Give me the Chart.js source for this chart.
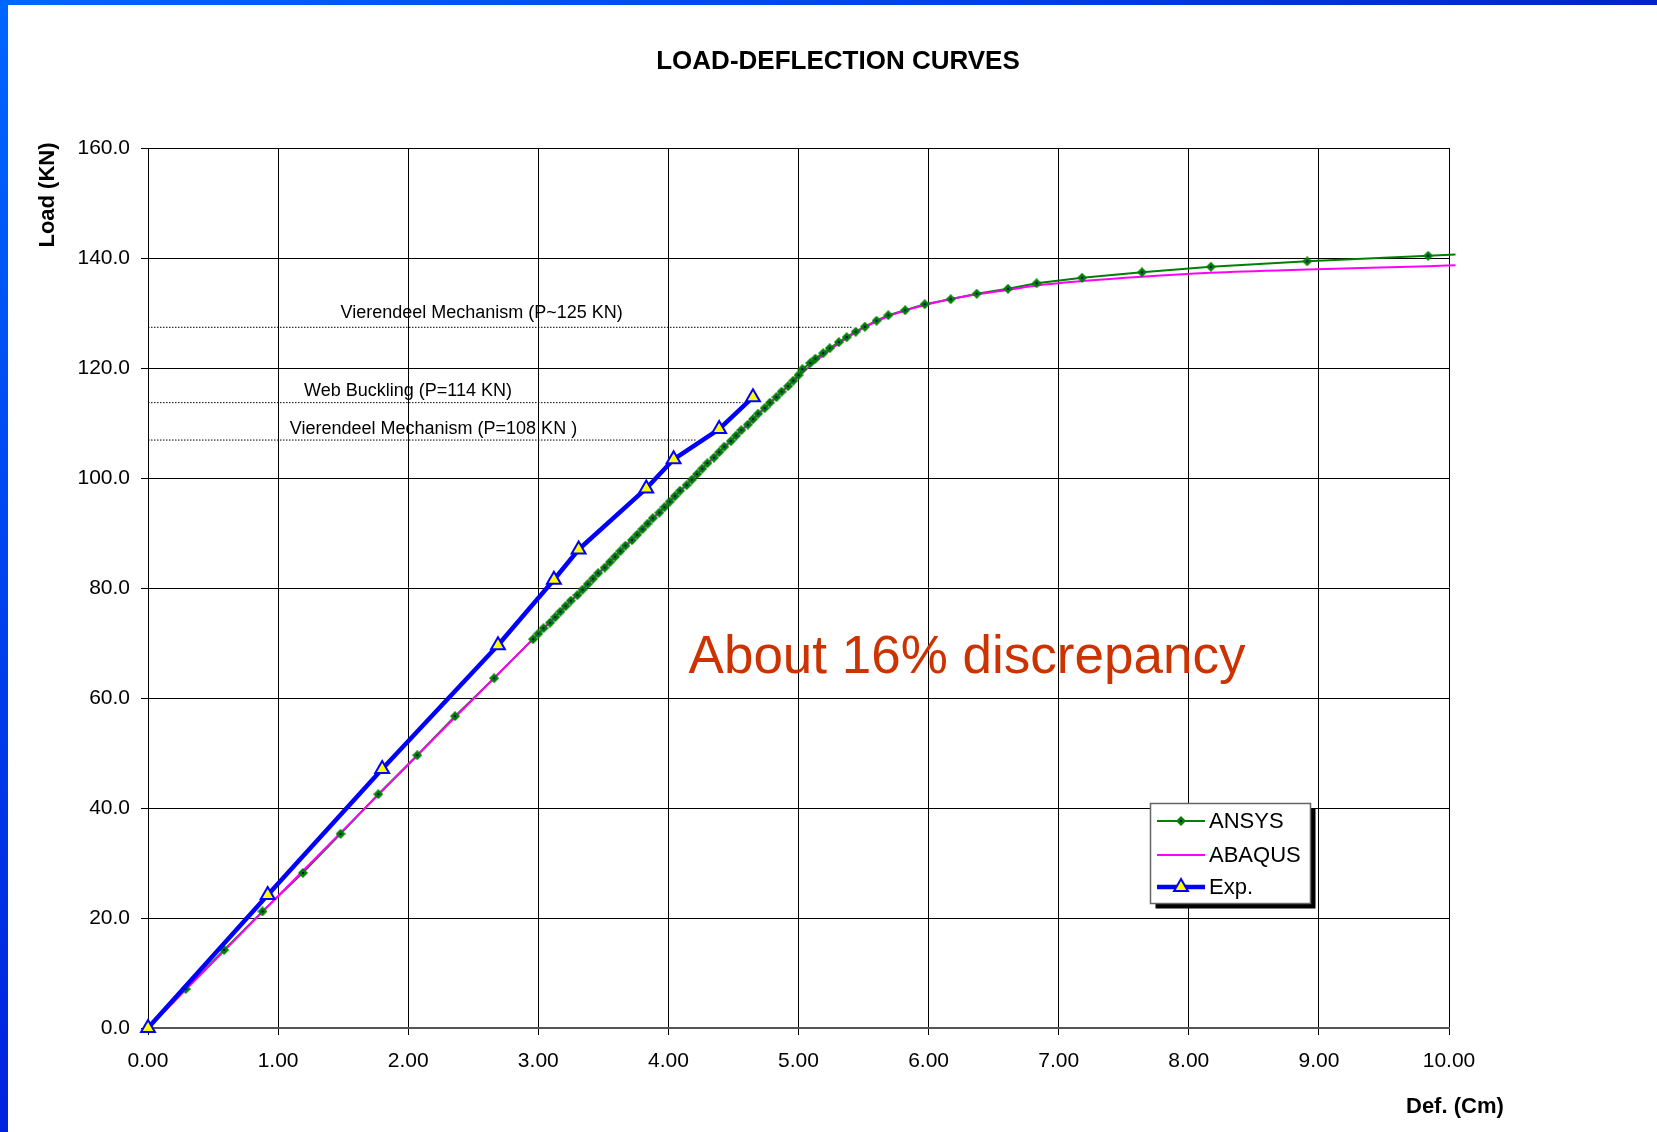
<!DOCTYPE html>
<html>
<head>
<meta charset="utf-8">
<title>Load-Deflection Curves</title>
<script src="https://cdn.jsdelivr.net/npm/chart.js@4.4.1/dist/chart.umd.min.js"></script>
<style>
    html, body { margin: 0; padding: 0; background: #fff; overflow: hidden; }
    #wrap { position: relative; width: 1657px; height: 1132px; }
    #topbar { position: absolute; left: 0; top: 0; width: 1657px; height: 5px; background: linear-gradient(to right, #0066ff, #0040e8 60%, #0022cc); }
    #leftbar { position: absolute; left: 0; top: 0; width: 8px; height: 1132px; background: linear-gradient(to bottom, #0066ff, #0022dd); }
</style>
</head>
<body>
<div id="wrap">
    <canvas id="loadChart" width="1657" height="1132"></canvas>
    <div id="topbar"></div>
    <div id="leftbar"></div>
</div>
<script>
// ANSYS results (deflection cm / load KN)
const ansysDef = [0, 0.29, 0.585, 0.88, 1.19, 1.48, 1.77, 2.07, 2.36, 2.66,
    2.96, 3.00, 3.04, 3.09, 3.13, 3.17, 3.21, 3.25, 3.30, 3.34,
    3.38, 3.42, 3.46, 3.51, 3.55, 3.59, 3.63, 3.67, 3.72, 3.76,
    3.80, 3.84, 3.88, 3.93, 3.97, 4.01, 4.05, 4.09, 4.14, 4.18,
    4.22, 4.26, 4.30, 4.35, 4.39, 4.43, 4.48, 4.52, 4.56, 4.61,
    4.65, 4.69, 4.74, 4.78, 4.83, 4.87, 4.92, 4.96, 5.00, 5.03,
    5.09, 5.13, 5.19, 5.24, 5.31, 5.37, 5.44, 5.51, 5.60, 5.69,
    5.82, 5.97, 6.17, 6.37, 6.61, 6.83, 7.18, 7.64, 8.17, 8.91,
    9.84, 10.05];
const ansysLoad = [0, 7.1, 14.2, 21.2, 28.2, 35.3, 42.5, 49.6, 56.7, 63.6,
    70.7, 71.7, 72.7, 73.7, 74.7, 75.7, 76.7, 77.7, 78.7, 79.7,
    80.7, 81.7, 82.7, 83.7, 84.7, 85.7, 86.7, 87.7, 88.7, 89.7,
    90.7, 91.7, 92.7, 93.7, 94.7, 95.7, 96.7, 97.7, 98.7, 99.7,
    100.7, 101.7, 102.7, 103.7, 104.7, 105.7, 106.7, 107.7, 108.7, 109.7,
    110.7, 111.7, 112.7, 113.7, 114.7, 115.7, 116.7, 117.7, 118.7, 119.8,
    120.9, 121.7, 122.7, 123.6, 124.7, 125.6, 126.6, 127.5, 128.6, 129.6,
    130.5, 131.6, 132.5, 133.5, 134.4, 135.4, 136.4, 137.4, 138.4, 139.4,
    140.4, 140.65];

// ABAQUS results
const abaqusDef = [0, 1.00, 2.00, 3.00, 4.00, 4.50, 4.90, 5.10, 5.30, 5.50, 5.70,
    5.90, 6.10, 6.35, 6.61, 6.83, 7.18, 7.64, 8.17, 8.91, 9.84, 10.05];
const abaqusLoad = [0, 24.0, 47.9, 71.7, 95.5, 107.2, 116.3, 120.6, 124.3, 127.3, 129.5,
    131.0, 132.2, 133.3, 134.2, 135.0, 135.8, 136.6, 137.3, 137.9, 138.5, 138.7];

// Experiment
const expDef = [0, 0.92, 1.80, 2.69, 3.12, 3.31, 3.83, 4.04, 4.39, 4.65];
const expLoad = [0, 24.2, 47.1, 69.6, 81.5, 87.0, 98.1, 103.4, 108.9, 114.7];

// dotted reference levels
const refLoads = [127.4, 113.7, 106.9];
const refEnds = [5.42, 4.57, 4.22];

const xTickLabels = ['0.00', '1.00', '2.00', '3.00', '4.00', '5.00', '6.00', '7.00', '8.00', '9.00', '10.00'];
const yTickLabels = ['0.0', '20.0', '40.0', '60.0', '80.0', '100.0', '120.0', '140.0', '160.0'];

const notes = [
    { text: 'Vierendeel Mechanism (P~125 KN)', x: 1.48, y: 129.1, size: 18, color: '#000' },
    { text: 'Web Buckling (P=114 KN)', x: 1.20, y: 114.9, size: 18, color: '#000' },
    { text: 'Vierendeel Mechanism (P=108 KN )', x: 1.09, y: 108.0, size: 18, color: '#000' },
    { text: 'About 16% discrepancy', x: 4.155, y: 64.6, size: 53, color: '#cc3300' }
];

const FONT = '"Liberation Sans", Arial, sans-serif';
Chart.defaults.font.family = FONT;
Chart.defaults.color = '#000';

function toPoints(xs, ys) {
    return xs.map((x, i) => ({ x: x, y: ys[i] }));
}

// green diamond with a navy centre, like the ANSYS markers
const diamond = document.createElement('canvas');
diamond.width = 10;
diamond.height = 10;
(function() {
    const c = diamond.getContext('2d');
    c.fillStyle = '#008000';
    c.beginPath();
    c.moveTo(5, 0); c.lineTo(10, 5); c.lineTo(5, 10); c.lineTo(0, 5);
    c.closePath();
    c.fill();
    c.fillStyle = '#000080';
    c.fillRect(4, 4, 2, 2);
})();

const ansysPts = toPoints(ansysDef, ansysLoad);
const refSets = refLoads.map((v, i) => ({
    label: 'ref' + i,
    data: [{ x: 0, y: v }, { x: refEnds[i], y: v }],
    borderColor: '#000',
    borderWidth: 1,
    borderDash: [1.5, 1.5],
    pointRadius: 0,
    order: 5,
    clip: false
}));

const overlayPlugin = {
    id: 'overlay',
    afterDraw(chart) {
        const ctx = chart.ctx;
        const xs = chart.scales.x, ys = chart.scales.y;
        ctx.save();

        // title and axis titles
        ctx.fillStyle = '#000';
        ctx.textAlign = 'center';
        ctx.textBaseline = 'middle';
        ctx.font = 'bold 26px ' + FONT;
        ctx.fillText('LOAD-DEFLECTION CURVES', 838, 62);

        ctx.font = 'bold 22px ' + FONT;
        ctx.textAlign = 'left';
        ctx.fillText('Def. (Cm)', 1406, 1107);

        ctx.save();
        ctx.translate(48, 195);
        ctx.rotate(-Math.PI / 2);
        ctx.textAlign = 'center';
        ctx.fillText('Load (KN)', 0, 0);
        ctx.restore();

        // notes
        ctx.textAlign = 'left';
        ctx.textBaseline = 'alphabetic';
        notes.forEach(n => {
            ctx.font = n.size + 'px ' + FONT;
            ctx.fillStyle = n.color;
            ctx.fillText(n.text, xs.getPixelForValue(n.x), ys.getPixelForValue(n.y));
        });

        // legend box
        const bx = 1150.5, by = 803.5, bw = 160, bh = 100;
        ctx.fillStyle = '#000';
        ctx.fillRect(bx + 5, by + 5, bw, bh);
        ctx.fillStyle = '#fff';
        ctx.fillRect(bx, by, bw, bh);
        ctx.strokeStyle = '#666';
        ctx.lineWidth = 1.5;
        ctx.strokeRect(bx, by, bw, bh);

        const ds = chart.data.datasets;
        const items = [
            { label: 'ANSYS', line: ds[3], marker: ds[1], y: 821 },
            { label: 'ABAQUS', line: ds[2], marker: null, y: 855 },
            { label: 'Exp.', line: ds[0], marker: ds[0], y: 887 }
        ];
        items.forEach(it => {
            ctx.strokeStyle = it.line.borderColor;
            ctx.lineWidth = it.line.borderWidth;
            ctx.setLineDash([]);
            ctx.beginPath();
            ctx.moveTo(1157, it.y);
            ctx.lineTo(1205, it.y);
            ctx.stroke();
            if (it.marker) {
                const ps = it.marker.pointStyle;
                if (ps === 'triangle') {
                    ctx.fillStyle = it.marker.pointBackgroundColor;
                    ctx.strokeStyle = it.marker.pointBorderColor;
                    ctx.lineWidth = it.marker.pointBorderWidth;
                    ctx.beginPath();
                    const r = it.marker.pointRadius;
                    ctx.moveTo(1181, it.y - r);
                    ctx.lineTo(1181 + r * 0.866, it.y + r / 2);
                    ctx.lineTo(1181 - r * 0.866, it.y + r / 2);
                    ctx.closePath();
                    ctx.fill();
                    ctx.stroke();
                } else {
                    ctx.drawImage(ps, 1181 - ps.width / 2, it.y - ps.height / 2);
                }
            }
            ctx.fillStyle = '#000';
            ctx.font = '22px ' + FONT;
            ctx.textBaseline = 'middle';
            ctx.fillText(it.label, 1209, it.y + 1);
        });

        ctx.restore();
    }
};

const ctx = document.getElementById('loadChart').getContext('2d');

new Chart(ctx, {
    type: 'line',
    data: {
        datasets: [
            {
                label: 'Exp.',
                data: toPoints(expDef, expLoad),
                borderColor: '#0000ff',
                borderWidth: 4.5,
                pointStyle: 'triangle',
                pointRadius: 8,
                pointBackgroundColor: '#ffff00',
                pointBorderColor: '#0000ff',
                pointBorderWidth: 2,
                borderJoinStyle: 'round',
                order: 0,
                clip: false
            },
            {
                label: 'ANSYS',
                data: ansysPts,
                showLine: false,
                pointStyle: diamond,
                pointRadius: ansysDef.map((v, i) => i === ansysDef.length - 1 ? 0 : 4),
                order: 1,
                clip: false
            },
            {
                label: 'ABAQUS',
                data: toPoints(abaqusDef, abaqusLoad),
                borderColor: '#ff00ff',
                borderWidth: 2,
                pointRadius: 0,
                cubicInterpolationMode: 'monotone',
                order: 2,
                clip: false
            },
            {
                label: 'ANSYS line',
                data: ansysPts,
                borderColor: '#008000',
                borderWidth: 2,
                pointRadius: 0,
                order: 3,
                clip: false
            }
        ].concat(refSets)
    },
    options: {
        responsive: false,
        animation: false,
        events: [],
        layout: {
            padding: { left: 0, top: 148, right: 208, bottom: 0 }
        },
        plugins: {
            legend: { display: false },
            tooltip: { enabled: false }
        },
        scales: {
            x: {
                type: 'linear',
                min: 0,
                max: 10,
                ticks: {
                    stepSize: 1,
                    padding: 14,
                    autoSkip: false,
                    maxRotation: 0,
                    font: { size: 21 },
                    color: '#000',
                    callback: (v, i) => xTickLabels[i]
                },
                grid: { color: '#000', lineWidth: 1, tickLength: 7, tickColor: '#000' },
                border: { color: '#555', width: 2 },
                afterFit: s => { s.height = 104; }
            },
            y: {
                min: 0,
                max: 160,
                ticks: {
                    stepSize: 20,
                    padding: 11,
                    font: { size: 21 },
                    color: '#000',
                    callback: (v, i) => yTickLabels[i]
                },
                grid: { color: '#000', lineWidth: 1, tickLength: 7, tickColor: '#000' },
                border: { color: '#000', width: 1 },
                afterFit: s => { s.width = 148; }
            }
        }
    },
    plugins: [overlayPlugin]
});
</script>
</body>
</html>
